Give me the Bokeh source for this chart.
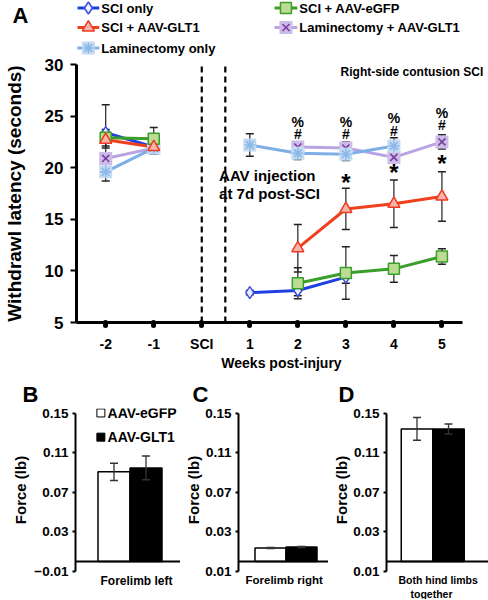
import math
from bokeh.plotting import figure
from bokeh.models import Range1d, FixedTicker, Span, Title
from bokeh.layouts import column, row
from bokeh.embed import file_html
from bokeh.resources import INLINE
from bokeh.core.properties import value

FONT = "Liberation Sans"

# ---------------- Panel A data ----------------
week_ticks = [-2, -1, 0, 1, 2, 3, 4, 5]
week_labels = ["-2", "-1", "SCI", "1", "2", "3", "4", "5"]
latency_ticks = [5, 10, 15, 20, 25, 30]

sci_only_x = [-2, -1, 1, 2, 3]
sci_only_y = [23.4, 22.0, 7.9, 8.1, 9.4]
sci_only_err = [2.7, 0.6, 0.2, 0.5, 0.6]

sci_egfp_x = [-2, -1, 2, 3, 4, 5]
sci_egfp_y = [22.9, 22.8, 8.8, 9.8, 10.2, 11.4]
sci_egfp_err = [0.8, 1.1, 1.5, 2.55, 1.3, 0.75]

sci_glt1_x = [-2, -1, 2, 3, 4, 5]
sci_glt1_y = [22.7, 22.0, 12.2, 16.0, 16.5, 17.2]
sci_glt1_err = [0.8, 0.5, 2.3, 2.0, 2.3, 2.4]

lam_glt1_x = [-2, -1, 2, 3, 4, 5]
lam_glt1_y = [20.9, 21.9, 22.0, 21.9, 21.0, 22.5]
lam_glt1_err = [0.5, 0.4, 0.3, 0.6, 0.5, 0.7]

lam_only_x = [-2, -1, 1, 2, 3, 4]
lam_only_y = [19.6, 21.9, 22.2, 21.4, 21.3, 22.1]
lam_only_err = [0.9, 0.6, 1.1, 0.6, 0.6, 0.8]

sig_weeks = [2, 3, 4, 5]
pct_y = [24.4, 24.4, 24.8, 25.3]
hash_y = [23.3, 23.3, 23.6, 24.1]
star_weeks = [3, 4, 5]
star_y = [18.6, 19.5, 20.4]

# ---------------- Panels B-D data ----------------
bar_groups = ["AAV-eGFP", "AAV-GLT1"]
force_ticks = [-0.01, 0.03, 0.07, 0.11, 0.15]
forelimb_left = [0.0909, 0.0948]
forelimb_left_err = [0.0088, 0.0120]
forelimb_right = [0.0138, 0.0148]
forelimb_right_err = [0.0005, 0.0006]
hind_both = [0.1343, 0.1343]
hind_both_err = [0.0115, 0.0050]

series = [
    dict(x=sci_only_x, y=sci_only_y, e=sci_only_err, color="#1f3fe0", marker="diamond",
         fill="#eef0ff", mline="#3b4fe0", size=12, bg=None, label="SCI only"),
    dict(x=lam_glt1_x, y=lam_glt1_y, e=lam_glt1_err, color="#b8a3e3", marker="x",
         fill=None, mline="#7a3e9e", size=10, bg="#cdbbe9", label="Laminectomy + AAV-GLT1"),
    dict(x=lam_only_x, y=lam_only_y, e=lam_only_err, color="#7eaee6", marker="asterisk",
         fill=None, mline="#8ab9ea", size=11, bg="#c4dbf2", label="Laminectomy only"),
    dict(x=sci_egfp_x, y=sci_egfp_y, e=sci_egfp_err, color="#3a9f2a", marker="square",
         fill="#bcdc93", mline="#3a9f2a", size=11, bg=None, label="SCI + AAV-eGFP"),
    dict(x=sci_glt1_x, y=sci_glt1_y, e=sci_glt1_err, color="#f0401e", marker="triangle",
         fill="#f8b4a8", mline="#ee3a22", size=12, bg=None, label="SCI + AAV-GLT1"),
]


def draw_marker(p, xs, ys, s):
    if s["bg"] is not None:
        p.scatter(x=xs, y=ys, marker="square", size=13, fill_color=s["bg"], line_color=None)
        p.scatter(x=xs, y=ys, marker=s["marker"], size=s["size"], line_color=s["mline"],
                  line_width=1.6)
    else:
        p.scatter(x=xs, y=ys, marker=s["marker"], size=s["size"], fill_color=s["fill"],
                  line_color=s["mline"], line_width=1.5)


def bold_text(p, xs, ys, texts, size, align="left"):
    p.text(x=xs, y=ys, text=texts, text_font=value(FONT), text_font_style="bold",
           text_font_size=size, text_align=align, text_baseline="middle", text_color="black")


def no_minor(ax):
    ax.minor_tick_out = 0
    ax.minor_tick_in = 0


# ================= Legend strip with panel letter A =================
pL = figure(width=488, height=56, x_range=Range1d(72, 486), y_range=Range1d(56, 0),
            x_axis_location=None, output_backend="svg", toolbar_location=None,
            min_border_left=72, min_border_right=2, min_border_top=0, min_border_bottom=0)
pL.outline_line_color = None
pL.grid.visible = False
la = pL.yaxis[0]
la.ticker = FixedTicker(ticks=[15])
la.major_label_overrides = {15: "A"}
la.axis_line_color = None
la.major_tick_out = 0
la.major_tick_in = 0
no_minor(la)
la.major_label_standoff = 48
la.major_label_text_font = FONT
la.major_label_text_font_style = "bold"
la.major_label_text_font_size = "22px"
la.major_label_text_color = "black"

leg_order = [("SCI only", 0, 0), ("SCI + AAV-eGFP", 1, 0), ("SCI + AAV-GLT1", 0, 1),
             ("Laminectomy + AAV-GLT1", 1, 1), ("Laminectomy only", 0, 2)]
col_x = [(73, 95), (272, 295)]
row_y = [7.5, 27, 47.5]
by_label = {s["label"]: s for s in series}
for lab, c, r in leg_order:
    s = by_label[lab]
    x0, x1 = col_x[c]
    pL.line(x=[x0, x1], y=[row_y[r], row_y[r]], line_color=s["color"], line_width=3)
    draw_marker(pL, [(x0 + x1) / 2], [row_y[r]], s)
    bold_text(pL, [x1 + 2], [row_y[r]], [lab], "13px")

# ================= Panel A =================
pA = figure(width=488, height=320, x_range=Range1d(-2.608, 5.928), y_range=Range1d(5, 30),
            output_backend="svg", toolbar_location=None,
            min_border_left=72, min_border_right=2, min_border_top=8, min_border_bottom=54)
pA.outline_line_color = None
pA.grid.visible = False

ya = pA.yaxis[0]
ya.ticker = FixedTicker(ticks=latency_ticks)
ya.axis_line_width = 3
ya.major_tick_out = 6
ya.major_tick_in = 0
ya.major_tick_line_width = 2
no_minor(ya)
ya.major_label_text_font = FONT
ya.major_label_text_font_style = "bold"
ya.major_label_text_font_size = "17px"
ya.major_label_text_color = "black"
ya.major_label_standoff = 7
ya.axis_label = "Withdrawl latency (seconds)"
ya.axis_label_text_font = FONT
ya.axis_label_text_font_style = "bold"
ya.axis_label_text_font_size = "19px"
ya.axis_label_text_color = "black"
ya.axis_label_standoff = 17

xa = pA.xaxis[0]
xa.ticker = FixedTicker(ticks=week_ticks)
xa.bounds = (-2.608, 5.433)
xa.major_label_overrides = {w: lab for w, lab in zip(week_ticks, week_labels)}
xa.axis_line_width = 3
xa.major_tick_out = 3
xa.major_tick_in = 0
xa.major_tick_line_width = 5
xa.major_tick_line_cap = "round"
no_minor(xa)
xa.major_label_text_font = FONT
xa.major_label_text_font_style = "bold"
xa.major_label_text_font_size = "14px"
xa.major_label_text_color = "black"
xa.major_label_standoff = 10
xa.axis_label = "Weeks post-injury"
xa.axis_label_text_font = FONT
xa.axis_label_text_font_style = "bold"
xa.axis_label_text_font_size = "14px"
xa.axis_label_text_color = "black"
xa.axis_label_standoff = 0

# dashed separators: SCI and injection
pA.segment(x0=[0, 0.49], y0=[5, 5], x1=[0, 0.49], y1=[30, 30], line_color="black",
           line_width=2.2, line_dash="6 4")

# error bars
for s in series:
    lo = [v - e for v, e in zip(s["y"], s["e"])]
    hi = [v + e for v, e in zip(s["y"], s["e"])]
    pA.segment(x0=s["x"], y0=lo, x1=s["x"], y1=hi, line_color="#222222", line_width=1.2)
    pA.scatter(x=s["x"] + s["x"], y=lo + hi, marker="dash", size=8, line_color="#222222",
               line_width=1.5)

# lines (pre-SCI and post-SCI segments)
for s in series:
    pre = [(a, b) for a, b in zip(s["x"], s["y"]) if a < 0]
    post = [(a, b) for a, b in zip(s["x"], s["y"]) if a > 0]
    for seg in (pre, post):
        pA.line(x=[a for a, _ in seg], y=[b for _, b in seg], line_color=s["color"], line_width=3)

for s in series:
    draw_marker(pA, s["x"], s["y"], s)

# significance marks
bold_text(pA, sig_weeks, pct_y, ["%"] * 4, "14px", align="center")
bold_text(pA, sig_weeks, hash_y, ["#"] * 4, "14px", align="center")
bold_text(pA, star_weeks, star_y, ["*"] * 3, "24px", align="center")

bold_text(pA, [0.36, 0.36], [19.25, 17.5], ["AAV injection", "at 7d post-SCI"], "15px")
bold_text(pA, [5.86], [29.3], ["Right-side contusion SCI"], "12px", align="right")


# ================= Panels B, C, D =================
def bar_panel(width, border_left, xr, vals, errs, letter, letter_offset, xlabels,
              overrides, title_standoff, label_size):
    p = figure(width=width, height=223, x_range=Range1d(*xr), y_range=Range1d(-0.01, 0.155),
               x_axis_location=None, output_backend="svg", toolbar_location=None,
               min_border_left=border_left, min_border_right=0, min_border_top=32,
               min_border_bottom=24)
    p.outline_line_color = None
    p.grid.visible = False
    p.add_layout(Title(text=letter, align="left", offset=letter_offset, text_font=FONT,
                       text_font_style="bold", text_font_size="22px", text_color="black",
                       standoff=4), "above")

    ax = p.yaxis[0]
    ax.ticker = FixedTicker(ticks=force_ticks)
    ax.bounds = (-0.01, 0.15)
    if overrides:
        ax.major_label_overrides = overrides
    ax.axis_line_width = 2
    ax.major_tick_out = 3
    ax.major_tick_in = 0
    ax.major_tick_line_width = 2
    no_minor(ax)
    ax.major_label_text_font = FONT
    ax.major_label_text_font_style = "bold"
    ax.major_label_text_font_size = "13.5px"
    ax.major_label_text_color = "black"
    ax.major_label_standoff = 4
    ax.axis_label = "Force (lb)"
    ax.axis_label_text_font = FONT
    ax.axis_label_text_font_style = "bold"
    ax.axis_label_text_font_size = "15px"
    ax.axis_label_text_color = "black"
    ax.axis_label_standoff = title_standoff

    # category labels under the bars
    for t, off in xlabels:
        p.add_layout(Title(text=t, align="left", offset=off, text_font=FONT,
                           text_font_style="bold", text_font_size=label_size,
                           text_color="black", standoff=0), "below")

    xs = [1, 2]
    p.vbar(x=xs, top=vals, bottom=0, width=1, fill_color=["white", "black"],
           line_color="black", line_width=1.5)
    lo = [v - e for v, e in zip(vals, errs)]
    hi = [v + e for v, e in zip(vals, errs)]
    p.segment(x0=xs, y0=lo, x1=xs, y1=hi, line_color="#333333", line_width=1.3)
    p.scatter(x=xs + xs, y=lo + hi, marker="dash", size=8, line_color="#333333", line_width=1.5)
    p.add_layout(Span(location=0, dimension="width", line_color="black", line_width=2))
    return p


pB = bar_panel(180, 75, (-0.203, 3.078), forelimb_left, forelimb_left_err, "B", -53,
               [("Forelimb left", 25)], None, 2, "12px")
pB.scatter(x=[0.59, 0.59], y=[0.1505, 0.126], marker="square", size=8,
           fill_color=["white", "black"], line_color="black", line_width=1)
bold_text(pB, [0.80, 0.80], [0.1505, 0.126], bar_groups, "14px")

pC = bar_panel(148, 58, (-0.032, 2.871), forelimb_right, forelimb_right_err, "C", -46,
               [("Forelimb right", 7)], {-0.01: "0.01"}, 0, "11.5px")
pD = bar_panel(160, 58, (0.032, 3.27), hind_both, hind_both_err, "D", -48,
               [("Both hind limbs", 12), ("together", 24)], {-0.01: "0.01"}, 0, "10.5px")

layout = column(pL, pA, row(pB, pC, pD, spacing=0), spacing=0)
open("out.html", "w").write(file_html(layout, INLINE))
